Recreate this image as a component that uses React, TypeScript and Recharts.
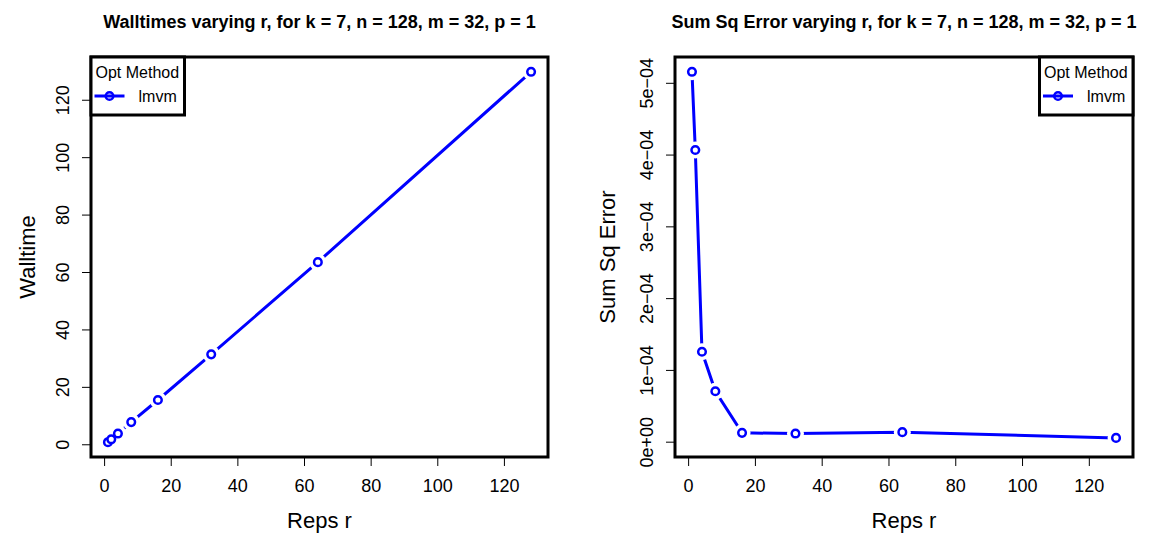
import { LineChart, Line, XAxis, YAxis, ReferenceArea } from 'recharts'

const FONT = '"Liberation Sans", Arial, Helvetica, sans-serif'
const BLUE = '#0000FF'

// replications r tried in the run
const reps = [1, 2, 4, 8, 16, 32, 64, 128]
// seconds
const walltime = [0.9, 1.9, 3.9, 7.9, 15.6, 31.5, 63.6, 129.9]
const sumSqError = [5.16e-4, 4.07e-4, 1.26e-4, 0.71e-4, 0.13e-4, 0.12e-4, 0.14e-4, 0.06e-4]

const xTicks = [0, 20, 40, 60, 80, 100, 120]
const wallTicks = [0, 20, 40, 60, 80, 100, 120]
const sseTicks = [0, 1e-4, 2e-4, 3e-4, 4e-4, 5e-4]
const sseTickLabels = ['0e+00', '1e\u221204', '2e\u221204', '3e\u221204', '4e\u221204', '5e\u221204']

const legendTitle = 'Opt Method'
const seriesName = 'lmvm'

// R's default axis range: data range stretched 4% each side
function rRange(values: number[]): [number, number] {
  const lo = Math.min(...values)
  const hi = Math.max(...values)
  const pad = (hi - lo) * 0.04
  return [lo - pad, hi + pad]
}

const W = 575
const H = 538
const TOP = 57
const XAXIS_H = 81

const XTick = (props: any) => {
  const { x, y, payload } = props
  return (
    <text x={x} y={y} dy="0.71em" textAnchor="middle" fontSize={18} fontFamily={FONT} fill="#000">
      {payload.value}
    </text>
  )
}

const makeYTick = (labels?: string[], ticks?: number[]) => (props: any) => {
  const { x, y, payload } = props
  let text = String(payload.value)
  if (labels && ticks) {
    const i = ticks.findIndex((t) => Math.abs(t - payload.value) < 1e-12)
    if (i >= 0) text = labels[i]
  }
  return (
    <text
      x={x}
      y={y}
      transform={`rotate(-90 ${x} ${y})`}
      textAnchor="middle"
      fontSize={18}
      fontFamily={FONT}
      fill="#000"
    >
      {text}
    </text>
  )
}

interface PanelProps {
  title: string
  yTitle: string
  values: number[]
  yDomain: [number, number]
  yTicks: number[]
  yTickLabels?: string[]
  yAxisWidth: number
  rightMargin: number
  yTitleOffset: number
  legendRight: boolean
}

function Panel(p: PanelProps) {
  const data = reps.map((r, i) => ({ r, v: p.values[i] }))
  const xDomain = rRange(reps)
  const plotLeft = p.yAxisWidth
  const plotRight = W - p.rightMargin
  const plotW = plotRight - plotLeft
  const legW = 93.5
  const lx = p.legendRight ? plotRight - legW : plotLeft

  return (
    <div style={{ position: 'relative', width: W, height: H }}>
      <LineChart width={W} height={H} data={data} margin={{ top: TOP, right: p.rightMargin, bottom: 0, left: 0 }}>
        <XAxis
          dataKey="r"
          type="number"
          domain={xDomain}
          allowDataOverflow
          ticks={xTicks}
          interval={0}
          height={XAXIS_H}
          axisLine={false}
          tickLine={{ stroke: '#000', strokeWidth: 1 }}
          tickSize={9}
          tickMargin={13}
          tick={(t: any) => <XTick {...t} />}
          label={(lp: any) => {
            const vb = lp.viewBox
            return (
              <text x={vb.x + vb.width / 2} y={vb.y + 71} textAnchor="middle" fontSize={22} fontFamily={FONT} fill="#000">
                Reps r
              </text>
            )
          }}
        />
        <YAxis
          type="number"
          domain={p.yDomain}
          allowDataOverflow
          ticks={p.yTicks}
          interval={0}
          width={p.yAxisWidth}
          axisLine={false}
          tickLine={{ stroke: '#000', strokeWidth: 1 }}
          tickSize={9}
          tickMargin={13}
          tick={makeYTick(p.yTickLabels, p.yTicks)}
          label={(lp: any) => {
            const vb = lp.viewBox
            const x = vb.x + p.yTitleOffset
            const y = vb.y + vb.height / 2
            return (
              <text x={x} y={y} transform={`rotate(-90 ${x} ${y})`} textAnchor="middle" fontSize={22} fontFamily={FONT} fill="#000">
                {p.yTitle}
              </text>
            )
          }}
        />
        <Line dataKey="v" stroke={BLUE} strokeWidth={3} dot={false} isAnimationActive={false} />
        <Line
          dataKey="v"
          stroke="none"
          isAnimationActive={false}
          dot={(d: any) => <circle key={`h${d.index}`} cx={d.cx} cy={d.cy} r={8.5} fill="#fff" />}
        />
        <Line
          dataKey="v"
          stroke="none"
          isAnimationActive={false}
          dot={(d: any) => (
            <circle key={`d${d.index}`} cx={d.cx} cy={d.cy} r={3.8} fill="#fff" stroke={BLUE} strokeWidth={2.5} />
          )}
        />
        <ReferenceArea
          x1={xDomain[0]}
          x2={xDomain[1]}
          y1={p.yDomain[0]}
          y2={p.yDomain[1]}
          fill="none"
          stroke="#000"
          strokeWidth={3}
          ifOverflow="visible"
        />
      </LineChart>
      <svg width={W} height={H} style={{ position: 'absolute', left: 0, top: 0, pointerEvents: 'none' }}>
        <text x={plotLeft + plotW / 2} y={28} textAnchor="middle" fontSize={18} fontWeight="bold" fontFamily={FONT} fill="#000">
          {p.title}
        </text>
        <rect x={lx} y={TOP} width={legW} height={58} fill="#fff" stroke="#000" strokeWidth={3} />
        <text x={lx + 46.3} y={77.5} textAnchor="middle" fontSize={16} fontFamily={FONT} fill="#000">
          {legendTitle}
        </text>
        <line x1={lx + 3.5} x2={lx + 33.5} y1={96} y2={96} stroke={BLUE} strokeWidth={3} />
        <circle cx={lx + 18.5} cy={96} r={3.8} fill="none" stroke={BLUE} strokeWidth={2.5} />
        <text x={lx + 47.5} y={101.5} fontSize={16} fontFamily={FONT} fill="#000">
          {seriesName}
        </text>
      </svg>
    </div>
  )
}

export default function App() {
  return (
    <div style={{ position: 'absolute', left: 0, top: 0, width: 1150, height: 538, display: 'flex', background: '#fff' }}>
      <Panel
        title="Walltimes varying r, for k = 7, n = 128, m = 32, p = 1"
        yTitle="Walltime"
        values={walltime}
        yDomain={rRange(walltime)}
        yTicks={wallTicks}
        yAxisWidth={91}
        rightMargin={27}
        yTitleOffset={35}
        legendRight={false}
      />
      <Panel
        title="Sum Sq Error varying r, for k = 7, n = 128, m = 32, p = 1"
        yTitle="Sum Sq Error"
        values={sumSqError}
        yDomain={rRange([0, ...sumSqError])}
        yTicks={sseTicks}
        yTickLabels={sseTickLabels}
        yAxisWidth={100}
        rightMargin={17}
        yTitleOffset={40}
        legendRight={true}
      />
    </div>
  )
}
